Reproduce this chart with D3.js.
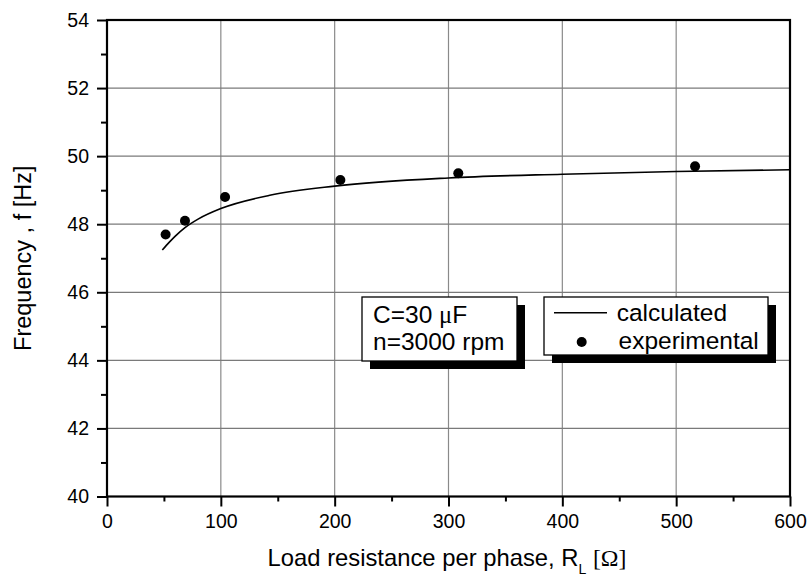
<!DOCTYPE html>
<html>
<head>
<meta charset="utf-8">
<script src="https://cdn.jsdelivr.net/npm/d3@7"></script>
<style>
  body { margin: 0; background: #fff; }
  svg { display: block; font-family: Arial, "Liberation Sans", sans-serif; }
</style>
</head>
<body>
<svg id="chart" width="808" height="579"></svg>
<script>
// ---- data ----
const xTickValues = [0, 100, 200, 300, 400, 500, 600];
const yTickValues = [40, 42, 44, 46, 48, 50, 52, 54];
const xMinorTicks = [50, 150, 250, 350, 450, 550];
const yMinorTicks = [41, 43, 45, 47, 49, 51, 53];

const expR = [51.5, 68.5, 103.7, 205, 308.6, 516.6];
const expF = [47.7, 48.1, 48.8, 49.3, 49.5, 49.7];

const calcR = [48.6, 55, 60, 68.5, 80, 100, 143, 200, 300, 400, 500, 600];
const calcF = [47.24, 47.48, 47.65, 47.9, 48.15, 48.46, 48.85, 49.12, 49.36, 49.47, 49.55, 49.6];

const legendNames = ["calculated", "experimental"];
const noteLines = ["C=30 ", "n=3000 rpm"];

// ---- layout ----
const svg = d3.select("#chart");
const W = 808, H = 579;
const L = 107, R = 790, T = 20, B = 496.5;

const x = d3.scaleLinear().domain([0, 600]).range([L, R]);
const y = d3.scaleLinear().domain([40, 54]).range([B, T]);

svg.append("rect").attr("width", W).attr("height", H).attr("fill", "#fff");

// grid
const grid = svg.append("g");
grid.selectAll("line.gx").data(xTickValues.filter(v => v > 0 && v < 600)).enter()
  .append("line").attr("x1", d => x(d)).attr("x2", d => x(d))
  .attr("y1", T).attr("y2", B).attr("stroke", "#8a8a8a").attr("stroke-width", 1.2);
grid.selectAll("line.gy").data(yTickValues.filter(v => v > 40 && v < 54)).enter()
  .append("line").attr("y1", d => y(d)).attr("y2", d => y(d))
  .attr("x1", L).attr("x2", R).attr("stroke", "#7a7a7a").attr("stroke-width", 1.2);

// axes
const xAxis = d3.axisBottom(x).tickValues(xTickValues).tickSize(10).tickPadding(8);
const gx = svg.append("g").attr("transform", `translate(0,${B})`).call(xAxis);
gx.select(".domain").remove();
gx.selectAll(".tick line").attr("stroke", "#000").attr("stroke-width", 2);
gx.selectAll(".tick text").attr("font-size", 19.5).attr("font-family", "Arial, 'Liberation Sans', sans-serif").attr("fill", "#000");

const xAxisMinor = d3.axisBottom(x).tickValues(xMinorTicks).tickSize(5).tickFormat("");
const gxm = svg.append("g").attr("transform", `translate(0,${B})`).call(xAxisMinor);
gxm.select(".domain").remove();
gxm.selectAll(".tick line").attr("stroke", "#000").attr("stroke-width", 2);

const yAxis = d3.axisLeft(y).tickValues(yTickValues).tickSize(10).tickPadding(8);
const gy = svg.append("g").attr("transform", `translate(${L},0)`).call(yAxis);
gy.select(".domain").remove();
gy.selectAll(".tick line").attr("stroke", "#000").attr("stroke-width", 2);
gy.selectAll(".tick text").attr("font-size", 19.5).attr("font-family", "Arial, 'Liberation Sans', sans-serif").attr("fill", "#000");

const yAxisMinor = d3.axisLeft(y).tickValues(yMinorTicks).tickSize(6).tickFormat("");
const gym = svg.append("g").attr("transform", `translate(${L},0)`).call(yAxisMinor);
gym.select(".domain").remove();
gym.selectAll(".tick line").attr("stroke", "#000").attr("stroke-width", 2);

// frame
svg.append("rect").attr("x", L).attr("y", T).attr("width", R - L).attr("height", B - T)
  .attr("fill", "none").attr("stroke", "#000").attr("stroke-width", 2.2);

// calculated curve
const calcData = calcR.map((r, i) => [r, calcF[i]]);
svg.append("path").datum(calcData)
  .attr("d", d3.line().x(d => x(d[0])).y(d => y(d[1])).curve(d3.curveMonotoneX))
  .attr("fill", "none").attr("stroke", "#000").attr("stroke-width", 1.6);

// experimental points
const expData = expR.map((r, i) => [r, expF[i]]);
svg.selectAll("circle.exp").data(expData).enter().append("circle")
  .attr("cx", d => x(d[0])).attr("cy", d => y(d[1])).attr("r", 5).attr("fill", "#000");

// axis titles
const xt = svg.append("text").attr("x", 447).attr("y", 566).attr("text-anchor", "middle")
  .attr("font-size", 23.8).attr("fill", "#000");
xt.append("tspan").text("Load resistance per phase, R");
xt.append("tspan").attr("font-size", 14).attr("dy", 8).text("L");
xt.append("tspan").attr("dy", -8).text(" ");
xt.append("tspan").attr("font-family", "'Times New Roman', 'Liberation Serif', serif").text("[Ω]");

svg.append("text").attr("transform", `translate(31,${(T + B) / 2}) rotate(-90)`)
  .attr("text-anchor", "middle").attr("font-size", 23.5).attr("fill", "#000")
  .text("Frequency , f [Hz]");

// note box
const nb = { x: 362, y: 297, w: 155, h: 64 };
svg.append("rect").attr("x", nb.x + 8).attr("y", nb.y + 8).attr("width", nb.w).attr("height", nb.h).attr("fill", "#000");
svg.append("rect").attr("x", nb.x).attr("y", nb.y).attr("width", nb.w).attr("height", nb.h)
  .attr("fill", "#fff").attr("stroke", "#000").attr("stroke-width", 1.3);
const n1 = svg.append("text").attr("x", nb.x + 11).attr("y", 322.5).attr("font-size", 24.5).attr("fill", "#000");
n1.append("tspan").text(noteLines[0]);
n1.append("tspan").attr("font-family", "'Liberation Serif', 'Times New Roman', serif").text("μ");
n1.append("tspan").text("F");
svg.append("text").attr("x", nb.x + 11).attr("y", 350).attr("font-size", 24.5).attr("fill", "#000").text(noteLines[1]);

// legend box
const lb = { x: 544, y: 297, w: 224, h: 58 };
svg.append("rect").attr("x", lb.x + 8).attr("y", lb.y + 8).attr("width", lb.w).attr("height", lb.h).attr("fill", "#000");
svg.append("rect").attr("x", lb.x).attr("y", lb.y).attr("width", lb.w).attr("height", lb.h)
  .attr("fill", "#fff").attr("stroke", "#000").attr("stroke-width", 1.3);
svg.append("line").attr("x1", 554).attr("x2", 607).attr("y1", 312.7).attr("y2", 312.7)
  .attr("stroke", "#000").attr("stroke-width", 1.4);
svg.append("circle").attr("cx", 581.7).attr("cy", 342).attr("r", 5).attr("fill", "#000");
svg.append("text").attr("x", 616.7).attr("y", 321).attr("font-size", 24.5).attr("fill", "#000").text(legendNames[0]);
svg.append("text").attr("x", 618.5).attr("y", 348.5).attr("font-size", 24.5).attr("fill", "#000").text(legendNames[1]);
</script>
</body>
</html>
